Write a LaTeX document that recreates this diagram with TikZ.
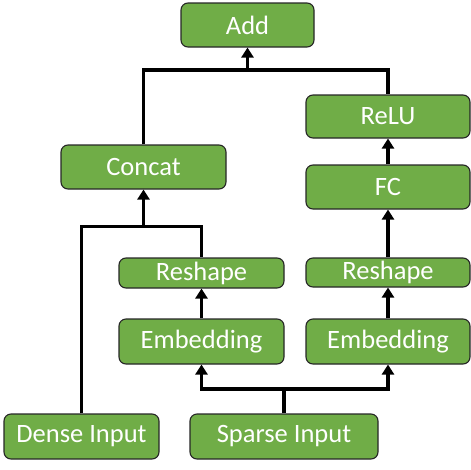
\documentclass[tikz,border=0pt]{standalone}
\usepackage{fontspec}
\setmainfont{Carlito}
\usetikzlibrary{arrows.meta}

\definecolor{blockgreen}{RGB}{112,173,71}

\begin{document}
\begin{tikzpicture}[
    x=1pt, y=-1pt,
    block/.style={
      rectangle,
      rounded corners=7pt,
      draw=black!85,
      line width=1.1pt,
      fill=blockgreen,
      text=white,
      inner sep=0pt,
      font=\fontsize{26.5}{30}\selectfont},
    verbindung/.style={line width=3.6pt},
    pfeil/.style={verbindung, -{Triangle[width=12pt,length=10pt]}}
    ]

  \useasboundingbox (0,0) rectangle (471,469);

  \node at (247.5,25) (add) [block, minimum width=133pt, minimum height=44pt] {Add};
  \node at (143.5,167) (concat) [block, minimum width=165pt, minimum height=44pt] {Concat};
  \node at (388,116.5) (relu) [block, minimum width=164pt, minimum height=43pt] {ReLU};
  \node at (388,187) (fc) [block, minimum width=164pt, minimum height=44pt] {FC};

  \node at (201.5,273) (reshapeL) [block, minimum width=165pt, minimum height=30pt] {Reshape};
  \node at (388,272.5) (reshapeR) [block, minimum width=164pt, minimum height=29pt] {Reshape};
  \node at (201.5,341.5) (embL) [block, minimum width=165pt, minimum height=45pt] {Embedding};
  \node at (388,341.5) (embR) [block, minimum width=164pt, minimum height=45pt] {Embedding};

  \node at (81.5,436.5) (dense) [block, minimum width=155pt, minimum height=45pt] {Dense Input};
  \node at (284,436.5) (sparse) [block, minimum width=188pt, minimum height=45pt] {Sparse Input};

  \coordinate (jadd) at (247.5,70);
  \coordinate (jconcat) at (143.5,226.5);
  \coordinate (jsparse) at (284,389);

  % zusammenfuehrungen
  \draw[verbindung] (concat.north) |- (jadd) -| (relu.north);
  \draw[verbindung] (dense.north) |- (jconcat) -| (reshapeL.north);
  \draw[verbindung] (sparse.north) -- (jsparse);
  \draw[pfeil] (jsparse) -| (embL.south);
  \draw[pfeil] (jsparse) -| (embR.south);

  \path[pfeil]
        (jadd) edge (add.south)
        (jconcat) edge (concat.south)
        (reshapeR) edge (fc)
        (fc) edge (relu)
        (embL) edge (reshapeL)
        (embR) edge (reshapeR)
  ;

\end{tikzpicture}
\end{document}
